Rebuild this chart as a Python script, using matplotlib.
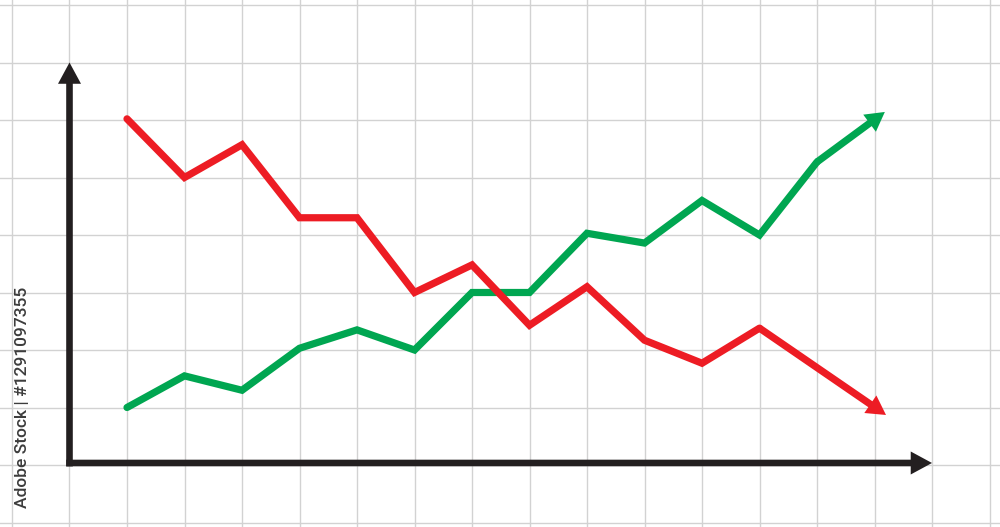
import matplotlib
matplotlib.use("Agg")
import matplotlib.pyplot as plt
import numpy as np

# Data in grid units (one grid cell = one unit)
x_points = [1, 2, 3, 4, 5, 6, 7, 8, 9, 10, 11, 12, 13]
green_values = [1.0, 1.55, 1.3, 2.03, 2.35, 2.0, 3.0, 3.0, 4.03, 3.86, 4.6, 4.0, 5.27]
red_values = [6.02, 5.0, 5.57, 4.3, 4.3, 3.0, 3.48, 2.43, 3.1, 2.17, 1.77, 2.38]
red_x = x_points[:len(red_values)]
green_tip = (14.18, 6.14)
red_tip = (14.2, 0.87)
watermark = "Adobe Stock | #1291097355"

GREEN = "#00a651"
RED = "#ed1c24"
BLACK = "#231f20"
GRID = "#d2d2d2"

W, H = 1000, 527
fig = plt.figure(figsize=(W / 100, H / 100), dpi=100)
ax = fig.add_axes([0, 0, 1, 1])
unit = 57.5
x0, y0 = 69.5, 465.0
ax.set_xlim(-x0 / unit, (W - x0) / unit)
ax.set_ylim((y0 - H) / unit, y0 / unit)
for s in ax.spines.values():
    s.set_visible(False)
ax.set_xticks(np.arange(-1, 17))
ax.set_yticks(np.arange(-1, 9))
ax.tick_params(length=0, labelbottom=False, labelleft=False)
ax.grid(True, color=GRID, lw=1.0, zorder=0)
ax.set_axisbelow(True)

# axes arrows
ax_y = 0.035
ax.arrow(0.0, ax_y - 0.06, 0, 7.0 - ax_y + 0.06, width=0.115, head_width=0.40,
         head_length=0.37, length_includes_head=True, color=BLACK, lw=0, zorder=3)
ax.arrow(-0.057, ax_y, 15.0 + 0.057, 0, width=0.115, head_width=0.40,
         head_length=0.37, length_includes_head=True, color=BLACK, lw=0, zorder=3)

lw = 5.2
ax.plot(x_points, green_values, color=GREEN, lw=lw, solid_capstyle="round",
        solid_joinstyle="miter", zorder=4)
ax.plot(red_x, red_values, color=RED, lw=lw, solid_capstyle="round",
        solid_joinstyle="miter", zorder=4)

for (xs, ys, tip, c) in [(x_points, green_values, green_tip, GREEN),
                         (red_x, red_values, red_tip, RED)]:
    ax.arrow(xs[-1], ys[-1], tip[0] - xs[-1], tip[1] - ys[-1], width=0.125,
             head_width=0.37, head_length=0.33, length_includes_head=True,
             color=c, lw=0, zorder=4)

fig.text(23 / W, 1 - 397 / H, watermark, rotation=90, ha="center", va="center",
         fontsize=12.5, color="#3c3c3c", fontweight="medium",
         family=["Roboto", "DejaVu Sans"])

fig.savefig("out.png", dpi=100, facecolor="white")
